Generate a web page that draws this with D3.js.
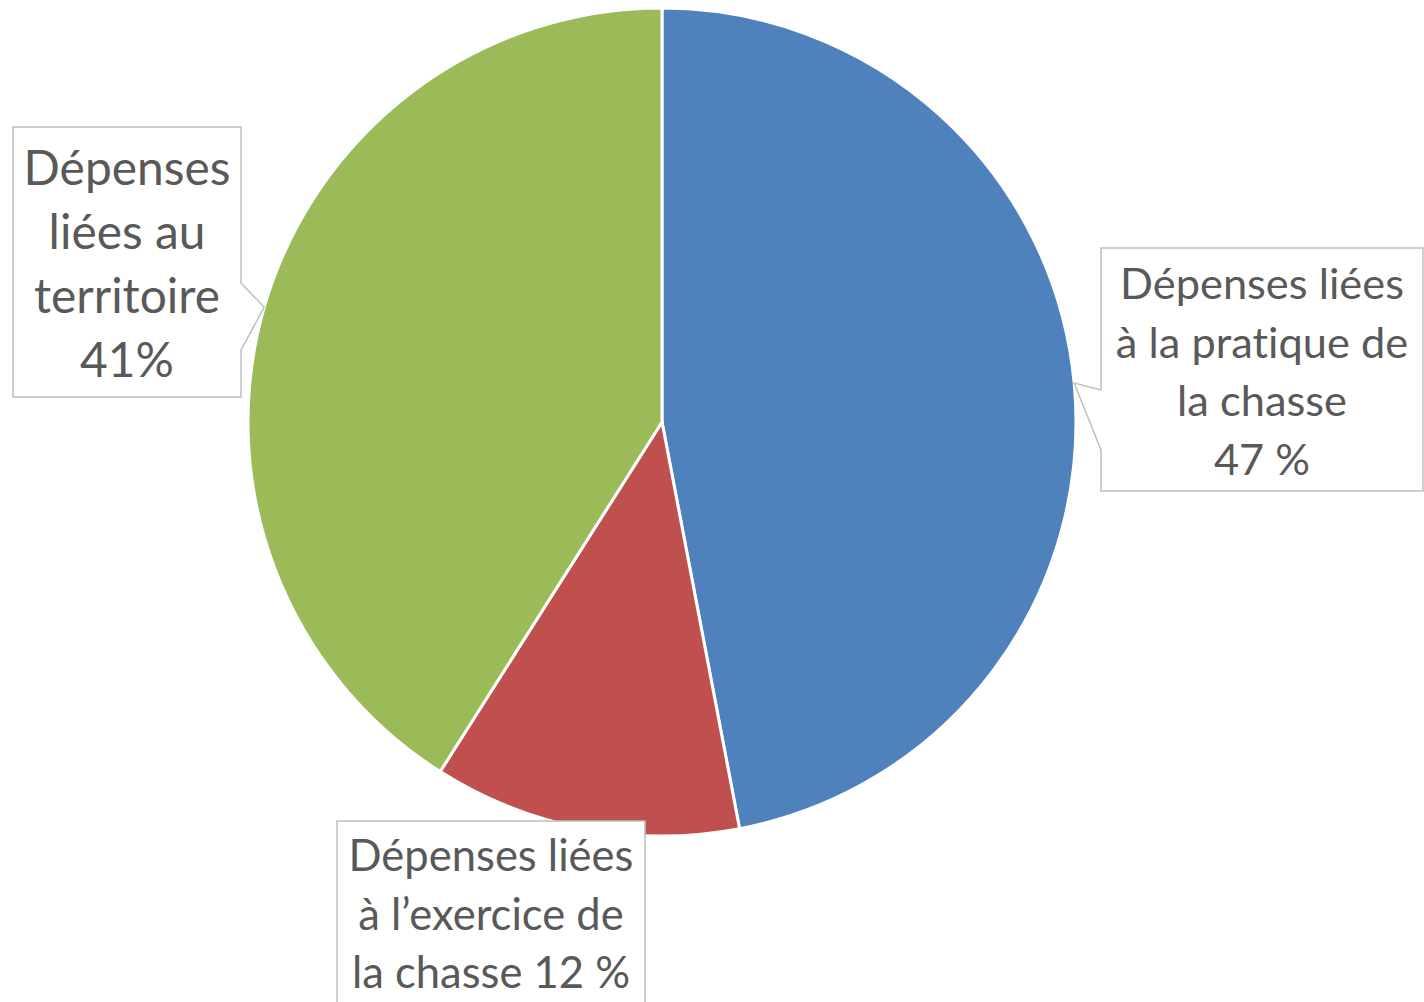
<!DOCTYPE html>
<html>
<head>
<meta charset="utf-8">
<script src="https://cdn.jsdelivr.net/npm/d3@7"></script>
<style>
  html, body { margin: 0; padding: 0; background: #fff; overflow: hidden; }
  svg text {
    font-family: Lato, "Open Sans", sans-serif; fill: #595959;
    font-variant-ligatures: none;
    font-feature-settings: "liga" 0, "clig" 0, "dlig" 0;
    letter-spacing: 0.01px; /* also stops the "ti" ligature */
  }
</style>
</head>
<body>
<svg id="chart" width="1424" height="1002"></svg>
<script>
// data
const categories = [
  'Dépenses liées à la pratique de la chasse',
  'Dépenses liées à l’exercice de la chasse',
  'Dépenses liées au territoire'
];
const values = [47, 12, 41];
const labelLines = [
  ['Dépenses liées', 'à la pratique de', 'la chasse', '47 %'],
  ['Dépenses liées', 'à l’exercice de', 'la chasse 12 %'],
  ['Dépenses', 'liées au', 'territoire', '41%']
];
const colors = ['#4f81bd', '#c0504d', '#9bbb59'];

// layout of the callout boxes (pixels)
const CONFIG = {
  CX: 662, CY: 422, R: 414,
  STROKE: '#fff', STROKE_W: 3,
  BOX_STROKE: '#bfbfbf'
};
const callouts = [
  // blue: notch on the left side
  { x0: 1101, y0: 248, x1: 1423, y1: 491, side: 'left', n0: 390, n1: 450, tipAngle: 84.6,
    fitWidth: 284, baseline0: 299, step: 58.5 },
  // red: plain box, cut by the bottom edge
  { x0: 337, y0: 821, x1: 645, y1: 1010, side: null,
    fitWidth: 285, baseline0: 871, step: 58.5 },
  // green: notch on the right side
  { x0: 13, y0: 127, x1: 241, y1: 397, side: 'right', n0: 283, n1: 350, tipAngle: 286.1,
    fitWidth: 207, baseline0: 185, step: 64 }
];

const svg = d3.select('#chart');

const pie = d3.pie().sort(null).value(d => d);
const arc = d3.arc().innerRadius(0).outerRadius(CONFIG.R);

const g = svg.append('g').attr('transform', `translate(${CONFIG.CX},${CONFIG.CY})`);
g.selectAll('path')
  .data(pie(values))
  .join('path')
  .attr('d', arc)
  .attr('fill', (d, i) => colors[i])
  .attr('stroke', CONFIG.STROKE)
  .attr('stroke-width', CONFIG.STROKE_W)
  .attr('stroke-linejoin', 'miter');

// tip of a callout on the pie border
function tipPoint(deg) {
  const a = deg * Math.PI / 180;
  return [CONFIG.CX + CONFIG.R * Math.sin(a), CONFIG.CY - CONFIG.R * Math.cos(a)];
}

function calloutPath(c) {
  const p = d3.path();
  p.moveTo(c.x0, c.y0);
  p.lineTo(c.x1, c.y0);
  if (c.side === 'right') {
    const t = tipPoint(c.tipAngle);
    p.lineTo(c.x1, c.n0);
    p.lineTo(t[0], t[1]);
    p.lineTo(c.x1, c.n1);
  }
  p.lineTo(c.x1, c.y1);
  p.lineTo(c.x0, c.y1);
  if (c.side === 'left') {
    const t = tipPoint(c.tipAngle);
    p.lineTo(c.x0, c.n1);
    p.lineTo(t[0], t[1]);
    p.lineTo(c.x0, c.n0);
  }
  p.closePath();
  return p.toString();
}

callouts.forEach((c, i) => {
  const box = svg.append('g');
  box.append('path')
    .attr('d', calloutPath(c))
    .attr('fill', '#fff')
    .attr('stroke', CONFIG.BOX_STROKE)
    .attr('stroke-width', 1.5);

  const cx = (c.x0 + c.x1) / 2;
  const texts = box.selectAll('text')
    .data(labelLines[i])
    .join('text')
    .attr('x', cx)
    .attr('y', (d, j) => c.baseline0 + j * c.step)
    .attr('text-anchor', 'middle')
    .attr('font-size', 40)
    .text(d => d);

  // scale the font so the first line matches the width in the picture
  const w = texts.node().getComputedTextLength();
  texts.attr('font-size', 40 * c.fitWidth / w);
});
</script>
</body>
</html>
